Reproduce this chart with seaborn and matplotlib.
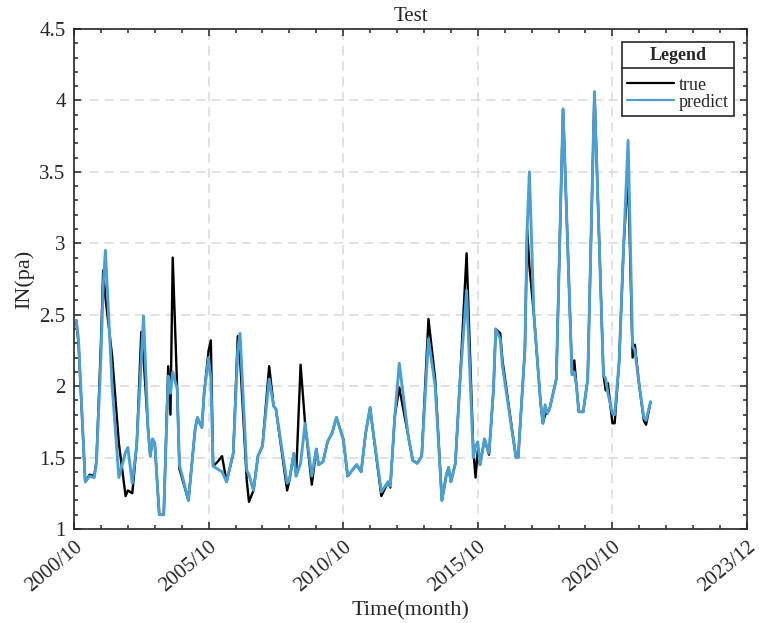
import matplotlib

matplotlib.use('Agg')
import matplotlib.pyplot as plt
import numpy as np
import seaborn as sns
from matplotlib.lines import Line2D
from matplotlib.ticker import MultipleLocator, FormatStrFormatter

# month index counted from 2000/10 at the line's corners
months = [1, 2, 5, 7, 9, 10, 12, 13, 14, 17, 20, 23, 24, 26, 28, 30, 31, 33, 34, 35,
          36, 38, 40, 42, 43, 44, 46, 47, 51, 54, 55, 57, 58, 60, 61, 62, 64, 66, 68, 71,
          73, 74, 77, 78, 80, 82, 84, 87, 89, 90, 95, 96, 98, 99, 101, 103, 106, 108, 109, 111,
          113, 115, 117, 120, 122, 124, 126, 128, 130, 132, 133, 137, 140, 141, 143, 145, 149, 151, 153, 155,
          158, 161, 164, 166, 167, 168, 170, 172, 175, 178, 179, 180, 181, 183, 185, 187, 188, 190, 191, 197,
          198, 201, 202, 203, 205, 208, 209, 210, 211, 212, 215, 218, 222, 223, 224, 225, 227, 229, 232, 236,
          237, 238, 240, 241, 243, 245, 247, 249, 250, 252, 254, 255, 257]

true_vals = [2.46, 2.30, 1.33, 1.38, 1.37, 1.48, 2.30, 2.81, 2.62, 2.21, 1.60, 1.23, 1.27, 1.25, 1.60, 2.38, 2.20, 1.70, 1.51, 1.63,
             1.60, 1.10, 1.10, 2.14, 1.80, 2.90, 1.98, 1.42, 1.20, 1.70, 1.78, 1.71, 1.95, 2.25, 2.32, 1.44, 1.47, 1.51, 1.33, 1.53,
             2.35, 2.20, 1.34, 1.19, 1.27, 1.51, 1.58, 2.14, 1.86, 1.84, 1.27, 1.34, 1.53, 1.37, 2.15, 1.74, 1.31, 1.56, 1.45, 1.47,
             1.61, 1.67, 1.78, 1.63, 1.37, 1.41, 1.45, 1.40, 1.67, 1.85, 1.72, 1.23, 1.33, 1.29, 1.79, 1.99, 1.65, 1.48, 1.46, 1.51,
             2.47, 2.05, 1.20, 1.38, 1.43, 1.33, 1.46, 2.02, 2.93, 1.55, 1.36, 1.55, 1.45, 1.63, 1.52, 1.98, 2.40, 2.37, 2.18, 1.50,
             1.50, 2.26, 3.10, 2.84, 2.50, 1.88, 1.74, 1.80, 1.81, 1.84, 2.05, 3.94, 2.08, 2.18, 2.00, 1.82, 1.82, 2.05, 4.06, 2.08,
             1.97, 2.02, 1.74, 1.74, 2.17, 2.98, 3.49, 2.20, 2.29, 2.00, 1.76, 1.73, 1.89]

pred_vals = [2.46, 2.33, 1.33, 1.37, 1.36, 1.46, 2.20, 2.70, 2.95, 2.00, 1.36, 1.54, 1.57, 1.32, 1.60, 2.20, 2.49, 1.70, 1.51, 1.63,
             1.60, 1.10, 1.10, 2.07, 1.95, 2.10, 1.98, 1.45, 1.20, 1.70, 1.78, 1.71, 1.95, 2.20, 2.05, 1.44, 1.42, 1.40, 1.33, 1.53,
             2.25, 2.37, 1.41, 1.38, 1.27, 1.51, 1.58, 2.05, 1.86, 1.84, 1.32, 1.34, 1.53, 1.37, 1.46, 1.74, 1.37, 1.56, 1.45, 1.47,
             1.61, 1.67, 1.78, 1.63, 1.37, 1.41, 1.45, 1.40, 1.67, 1.85, 1.72, 1.26, 1.33, 1.30, 1.79, 2.16, 1.65, 1.48, 1.46, 1.51,
             2.33, 2.00, 1.20, 1.38, 1.43, 1.33, 1.46, 2.02, 2.67, 1.50, 1.58, 1.61, 1.45, 1.63, 1.53, 1.98, 2.40, 2.33, 2.14, 1.50,
             1.50, 2.26, 3.10, 3.50, 2.50, 1.88, 1.74, 1.87, 1.81, 1.84, 2.05, 3.94, 2.08, 2.10, 2.00, 1.82, 1.82, 2.05, 4.06, 2.08,
             2.05, 1.95, 1.81, 1.80, 2.17, 2.98, 3.72, 2.28, 2.25, 2.00, 1.78, 1.76, 1.89]

tick_pos = [0, 60, 120, 180, 240, 300]
tick_labels = ['2000/10', '2005/10', '2010/10', '2015/10', '2020/10', '2023/12']

sns.set_style('ticks')
plt.rcParams['font.family'] = ['Liberation Serif', 'DejaVu Serif']

fig = plt.figure(figsize=(7.59, 6.23), dpi=100)
ax = fig.add_axes([0.0975, 0.1509, 0.8867, 0.8026])

sns.lineplot(x=months, y=true_vals, color='black', lw=1.7, label='true', ax=ax)
sns.lineplot(x=months, y=pred_vals, color='#4B9FD1', lw=2.1, label='predict', ax=ax)

ax.set_xlim(0, 300)
ax.set_ylim(1, 4.5)
ax.set_xticks(tick_pos)
ax.set_xticklabels(tick_labels, rotation=40, ha='right', va='top', rotation_mode='anchor')
ax.xaxis.set_minor_locator(MultipleLocator(12))
ax.yaxis.set_major_locator(MultipleLocator(0.5))
ax.yaxis.set_minor_locator(MultipleLocator(0.1))
ax.yaxis.set_major_formatter(FormatStrFormatter('%g'))

ax.tick_params(which='both', direction='in', top=True, right=True, width=1.1,
               color='#262626', labelsize=15, labelcolor='#262626')
ax.tick_params(which='major', length=5, pad=6)
ax.tick_params(which='minor', length=3)
for sp in ax.spines.values():
    sp.set_linewidth(1.2)
    sp.set_color('#262626')

ax.grid(True, which='major', color='#d9d9d9', linestyle=(0, (6, 4)), linewidth=1.1)
ax.set_axisbelow(True)

ax.set_title('Test', fontsize=15, pad=6, color='#262626')
ax.set_xlabel('Time(month)', fontsize=16, color='#262626', labelpad=4)
ax.set_ylabel('IN(pa)', fontsize=16, color='#262626', labelpad=4)

leg = ax.legend(loc='upper right', title='Legend', fontsize=13, title_fontproperties={'weight': 'bold', 'size': 13},
                frameon=True, fancybox=False, framealpha=1, edgecolor='#262626',
                handlelength=2.6, handletextpad=0.25, borderpad=0.3, labelspacing=0.0,
                borderaxespad=0.7)
leg.get_frame().set_linewidth(1.2)
for h in leg.get_lines():
    h.set_linewidth(1.6)
leg._legend_box.sep = 9

# line under the legend title
fig.canvas.draw()
r = fig.canvas.get_renderer()
fb = leg.get_frame().get_window_extent(r)
tb = leg.get_title().get_window_extent(r)
ysep = tb.y0 - 4
inv = fig.transFigure.inverted()
(x0, y0), (x1, _) = inv.transform([(fb.x0, ysep), (fb.x1, ysep)])
fig.add_artist(Line2D([x0, x1], [y0, y0], transform=fig.transFigure, color='#262626', lw=1.2))

plt.savefig('out.png', dpi=100)
plt.close()
